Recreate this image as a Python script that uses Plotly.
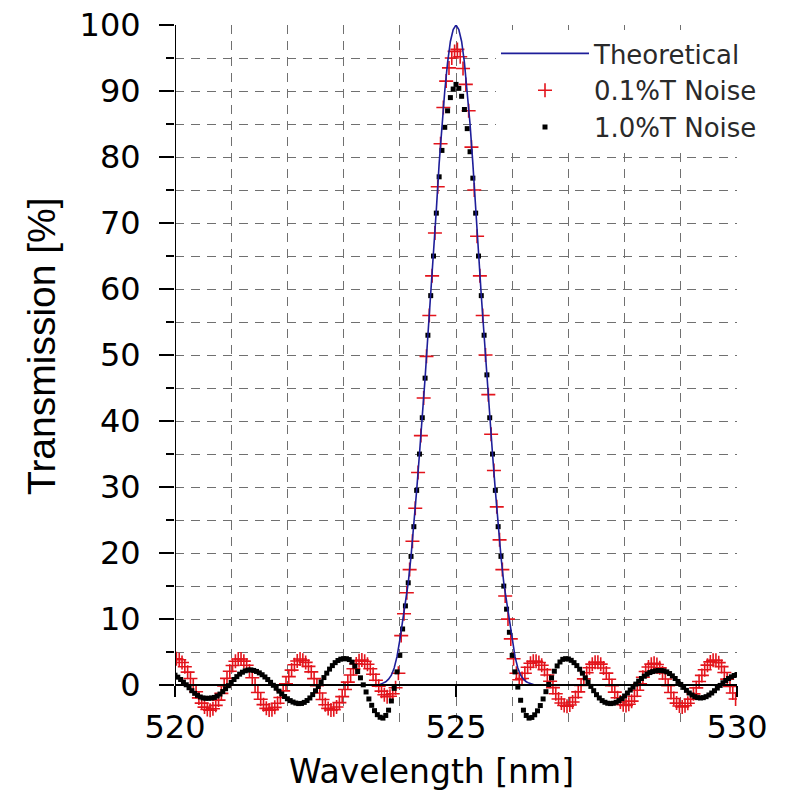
import plotly.graph_objects as go

# ---------------- data ----------------
# 1.0 %T noise series, sampled every 0.05 nm from 520.00 to 530.00
black_T = [
    1.5, 1.2, 0.85, 0.45, 0.05, -0.4, -0.85, -1.25, -1.55, -1.8, -1.95, -2.0, -2.0, -1.95,
    -1.87, -1.65, -1.36, -0.98, -0.55, -0.09, 0.39, 0.85, 1.28, 1.66, 1.95, 2.17, 2.28,
    2.3, 2.22, 2.07, 1.85, 1.57, 1.23, 0.84, 0.42, -0.03, -0.48, -0.92, -1.34, -1.73, -2.07, -2.35, -2.57, -2.72, -2.8,
    -2.78, -2.62, -2.34, -1.95, -1.44, -0.86, -0.21, 0.46, 1.14, 1.81, 2.42, 2.95, 3.40, 3.73, 3.93, 4.0,
    4.0, 3.87, 3.48, 2.87, 2.06, 1.10, 0.04, -1.04, -2.10, -3.06, -3.87, -4.48, -4.87, -5.0,
    -4.6, -3.8, -2.4, -0.5, 2.0, 4.5,
    8.5, 12.0, 15.5, 19.5, 24.0, 29.5, 35.0, 40.5, 46.5, 53.0, 59.0, 65.0, 71.5, 77.0, 81.0, 84.5, 87.0, 89.0, 90.3, 91.0,
    90.4, 89.2, 87.2, 84.3, 80.8, 76.8, 71.5, 65.0, 59.0, 53.0, 47.0, 40.5, 35.0, 29.5, 24.0, 19.5, 15.0, 11.5, 8.0, 4.5,
    2.0, -0.3, -2.3, -3.8, -4.6, -5.0,
    -4.9, -4.5, -3.9, -3.1, -2.1, -1.0, 0.1, 1.1, 2.1, 2.9, 3.5, 3.9, 4.0, 3.95,
    3.75, 3.4, 2.95, 2.4, 1.8, 1.1, 0.45, -0.2, -0.85, -1.45, -1.95, -2.35, -2.6, -2.75, -2.8,
    -2.75, -2.6, -2.35, -2.05, -1.65, -1.2, -0.75, -0.3, 0.15, 0.6, 1.0, 1.35, 1.65, 1.9, 2.05, 2.15,
    2.2, 2.2, 2.15, 2.0, 1.75, 1.4, 1.0, 0.55, 0.1, -0.35, -0.8, -1.2, -1.5, -1.75, -1.9, -1.95,
    -1.9, -1.75, -1.5, -1.2, -0.85, -0.45, -0.05, 0.35, 0.7, 1.0, 1.25, 1.45, 1.6,
]

# 0.1 %T noise series, sampled every 0.05 nm from 520.025 to 529.975
red_T = [
    4.0, 3.84, 3.43, 2.78, 1.96, 1.01, 0.0, -1.01, -1.94, -2.73, -3.33, -3.69, -3.8,
    -3.59, -3.07, -2.27, -1.26, -0.13, 1.02, 2.09, 2.97, 3.62, 3.96,
    3.96, 3.63, 3.0, 2.15, 1.11, -0.01, -1.13, -2.14, -2.96, -3.52, -3.79,
    -3.72, -3.37, -2.74, -1.88, -0.88, 0.21, 1.29, 2.27, 3.08, 3.66, 3.96,
    3.76, 3.44, 2.84, 2.0, 0.98, -0.11, -1.2, -2.18, -2.98, -3.53, -3.78,
    -3.72, -3.32, -2.65, -1.74, -0.67, 0.45, 1.53, 2.48, 3.21, 3.67, 3.8,
    3.62, 3.16, 2.48, 1.64, 0.73, -0.16, -0.92, -1.47, -1.76,
    -1.7, -1.3, -0.4, 1.8,
    7.5, 10.8, 14.0, 17.5, 21.8, 26.8, 32.2, 37.8, 43.5, 49.8, 56.0, 62.0, 68.5, 75.5, 82.0, 87.5, 91.5, 93.5, 95.0, 96.0,
    96.3, 95.2, 93.4, 91.0, 87.0, 81.5, 75.0, 68.0, 62.0, 56.0, 50.0, 44.0, 38.0, 32.5, 27.0, 22.0, 17.5, 13.5, 10.0, 7.0,
    4.0, 1.8, 0.8, 1.0, 1.8, 2.7, 3.3, 3.6, 3.6,
    3.43, 3.01, 2.35, 1.52, 0.58, -0.38, -1.30, -2.10, -2.71, -3.09, -3.2,
    -3.02, -2.57, -1.88, -1.02, -0.05, 0.94, 1.86, 2.62, 3.17, 3.46,
    3.46, 3.17, 2.60, 1.82, 0.89, -0.10, -1.06, -1.91, -2.57, -2.98,
    -3.1, -2.91, -2.43, -1.70, -0.79, 0.20, 1.18, 2.06, 2.75, 3.17,
    3.3, 3.11, 2.61, 1.85, 0.92, -0.10, -1.12, -2.02, -2.73, -3.17,
    -3.3, -3.14, -2.74, -2.12, -1.33, -0.42, 0.54, 1.47, 2.32, 3.02, 3.51, 3.77,
    3.75, 3.4, 2.8, 1.9, 0.9, -0.2, -1.2, -2.1,
]

# theoretical curve
theo_wl = [
    520.0, 523.55, 523.60, 523.65, 523.70, 523.75, 523.80, 523.85, 523.90, 523.95,
    524.00, 524.05, 524.10, 524.15, 524.20, 524.25, 524.30, 524.35, 524.40, 524.45,
    524.50, 524.55, 524.60, 524.65, 524.70, 524.75, 524.80, 524.85, 524.90, 524.95,
    525.00, 525.05, 525.10, 525.15, 525.20, 525.25, 525.30, 525.35, 525.40, 525.45,
    525.50, 525.55, 525.60, 525.65, 525.70, 525.75, 525.80, 525.85, 525.90, 525.95,
    526.00, 526.05, 526.10, 526.15, 526.20, 526.25, 526.30, 526.35, 526.40, 526.45, 530.0,
]
theo_T = [
    0.0, 0.0, 0.0, 0.1, 0.3, 0.5, 0.9, 1.5, 2.6, 4.3,
    6.8, 9.7, 12.5, 15.5, 19.5, 24.0, 29.5, 35.0, 40.5, 46.5,
    53.0, 59.0, 65.0, 72.0, 79.0, 85.0, 90.0, 94.3, 97.5, 99.3,
    100.0, 99.3, 97.5, 94.3, 90.0, 85.0, 79.0, 72.0, 65.0, 59.0,
    53.0, 46.5, 40.5, 35.0, 29.5, 24.0, 19.5, 15.5, 12.5, 9.7,
    6.8, 4.3, 2.6, 1.5, 0.9, 0.5, 0.3, 0.1, 0.0, 0.0, 0.0,
]

x_major = [520, 525, 530]
x_minor = [521, 522, 523, 524, 526, 527, 528, 529]
y_major = [0, 10, 20, 30, 40, 50, 60, 70, 80, 90, 100]
y_minor = [5, 15, 25, 35, 45, 55, 65, 75, 85, 95]

assert len(black_T) == 201, len(black_T)
assert len(red_T) == 200, len(red_T)
assert len(theo_wl) == len(theo_T)

black_wl = [round(520.0 + 0.05 * i, 3) for i in range(len(black_T))]
red_wl = [round(520.025 + 0.05 * i, 3) for i in range(len(red_T))]

# ---------------- figure ----------------
W, H = 788, 790
# plot area in page pixels: x 175..737, y 25..728
L, R, T, B = 175, 788 - 737, 25, 790 - 728
YMIN, YMAX = -6.5, 100
pw, ph = W - L - R, H - T - B

def px_x(p):
    return (p - L) / pw

def px_y(p):
    return (H - B - p) / ph

GRID = '#707070'
DASH = '9px,7px'
TICKFONT = dict(family='DejaVu Sans', size=32, color='black')

fig = go.Figure()
fig.add_trace(go.Scatter(
    x=red_wl, y=red_T, mode='markers', name='0.1%T Noise', legendrank=2,
    marker=dict(symbol='cross-thin', size=10, color='#e3141c',
                line=dict(color='#e3141c', width=1.6)),
))
fig.add_trace(go.Scatter(
    x=black_wl, y=black_T, mode='markers', name='1.0%T Noise', legendrank=3,
    marker=dict(symbol='square', size=5, color='black'),
))
fig.add_trace(go.Scatter(
    x=theo_wl, y=theo_T, mode='lines', name='Theoretical', legendrank=1,
    line=dict(color='#1e1e9a', width=1.6),
))

fig.add_shape(type='line', xref='x', yref='y', x0=520, x1=520, y0=-1.8, y1=100,
              line=dict(color='black', width=2), layer='above')

fig.update_layout(
    width=W, height=H,
    margin=dict(l=L, r=R, t=T, b=B, pad=0),
    plot_bgcolor='white', paper_bgcolor='white',
    showlegend=True,
    xaxis=dict(
        range=[520, 530], anchor='free', position=(0 - YMIN) / (YMAX - YMIN),
        automargin=False, ticklabeloverflow='allow',
        tickmode='array', tickvals=x_major,
        ticks='outside', ticklen=11, tickwidth=2, tickcolor='black',
        showline=True, linecolor='black', linewidth=2,
        showgrid=True, gridcolor=GRID, griddash=DASH, gridwidth=1,
        zeroline=False,
        tickfont=TICKFONT,
        ticklabelstandoff=3,
        minor=dict(tickmode='array', tickvals=x_minor, ticklen=0,
                   showgrid=True, gridcolor=GRID, griddash=DASH, gridwidth=1),
    ),
    yaxis=dict(
        range=[YMIN, YMAX], automargin=False, ticklabeloverflow='allow',
        tickmode='array', tickvals=y_major,
        ticks='outside', ticklen=15, tickwidth=2, tickcolor='black',
        showline=False,
        showgrid=True, gridcolor=GRID, griddash=DASH, gridwidth=1,
        zeroline=False,
        tickfont=TICKFONT,
        ticklabelstandoff=12,
        minor=dict(tickmode='array', tickvals=y_minor, ticks='outside', ticklen=8,
                   tickwidth=2, tickcolor='black',
                   showgrid=True, gridcolor=GRID, griddash=DASH, gridwidth=1),
    ),
    legend=dict(
        x=px_x(496), y=px_y(30), xanchor='left', yanchor='top',
        bgcolor='white', borderwidth=0,
        font=dict(family='DejaVu Sans', size=26, color='#2a2a2a'),
        itemwidth=88, tracegroupgap=0,
    ),
    annotations=[
        dict(text='Transmission [%]', x=px_x(42), y=px_y(346), xref='paper', yref='paper',
             textangle=-90, showarrow=False, xanchor='center', yanchor='middle',
             font=dict(family='Liberation Sans', size=39, color='black')),
        dict(text='Wavelength [nm]', x=px_x(431), y=px_y(771), xref='paper', yref='paper',
             showarrow=False, xanchor='center', yanchor='middle',
             font=dict(family='DejaVu Sans', size=33, color='black')),
    ],
)

fig.write_html(
    'out.html',
    config={'displayModeBar': False},
    post_script="document.body.style.margin='0px';document.body.style.overflow='hidden';",
)
